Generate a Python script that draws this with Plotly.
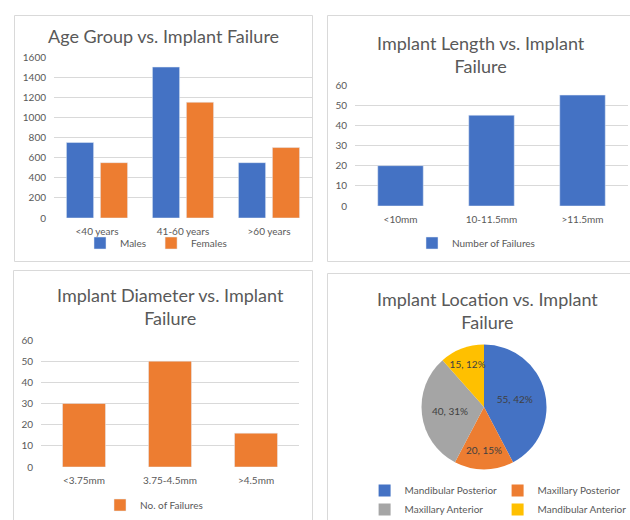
import plotly.graph_objects as go

# ── Data ─────────────────────────────────────────────────────────────────────
age_groups = ["<40 years", "41-60 years", ">60 years"]
age_males = [750, 1500, 550]
age_females = [550, 1150, 700]

length_groups = ["<10mm", "10-11.5mm", ">11.5mm"]
length_failures = [20, 45, 55]

diameter_groups = ["<3.75mm", "3.75-4.5mm", ">4.5mm"]
diameter_failures = [30, 50, 16]

location_labels = ["Mandibular Posterior", "Maxillary Posterior",
                   "Maxillary Anterior", "Mandibular Anterior"]
location_failures = [55, 20, 40, 15]

# ── Style ────────────────────────────────────────────────────────────────────
W, H = 630, 520
BLUE, ORANGE, GRAY, YELLOW = "#4472C4", "#ED7D31", "#A5A5A5", "#FFC000"
INK = "#595959"
GRID = "#D9D9D9"
FONT = "Lato"


def px_x(x):
    return x / W


def px_y(y):
    return 1 - y / H


fig = go.Figure()

# ── Age group (grouped bars) ─────────────────────────────────────────────────
fig.add_trace(go.Bar(x=age_groups, y=age_males, name="Males",
                     marker=dict(color=BLUE), xaxis="x", yaxis="y",
                     legend="legend"))
fig.add_trace(go.Bar(x=age_groups, y=age_females, name="Females",
                     marker=dict(color=ORANGE), xaxis="x", yaxis="y",
                     legend="legend"))

# ── Implant length ───────────────────────────────────────────────────────────
fig.add_trace(go.Bar(x=length_groups, y=length_failures,
                     name="Number of Failures", width=0.5,
                     marker=dict(color=BLUE), xaxis="x2", yaxis="y2",
                     legend="legend2"))

# ── Implant diameter ─────────────────────────────────────────────────────────
fig.add_trace(go.Bar(x=diameter_groups, y=diameter_failures,
                     name="No. of Failures", width=0.5,
                     marker=dict(color=ORANGE), xaxis="x3", yaxis="y3",
                     legend="legend3"))

# ── Implant location (pie) ───────────────────────────────────────────────────
cx, cy, r = 484, 407, 62.5
fig.add_trace(go.Pie(
    labels=location_labels, values=location_failures,
    sort=False, direction="clockwise", rotation=0,
    marker=dict(colors=[BLUE, ORANGE, GRAY, YELLOW],
                line=dict(width=0)),
    texttemplate="%{value}, %{percent:.0%}",
    textposition="inside", insidetextorientation="horizontal",
    textfont=dict(family=FONT, size=10, color="#404040"),
    hoverinfo="label+value+percent",
    domain=dict(x=[px_x(cx - r), px_x(cx + r)],
                y=[px_y(cy + r), px_y(cy - r)]),
    legend="legend4",
))


def bar_axes(xdom, ydom, yrange, dtick):
    xa = dict(domain=[px_x(xdom[0]), px_x(xdom[1])], range=[-0.5, 2.5],
              showgrid=False, zeroline=False, showline=False, ticks="",
              ticklabelstandoff=6,
              tickfont=dict(family=FONT, size=10, color=INK),
              fixedrange=True)
    ya = dict(domain=[px_y(ydom[1]), px_y(ydom[0])], range=yrange,
              dtick=dtick, showgrid=True, gridcolor=GRID, gridwidth=1,
              zeroline=False, showline=False, ticks="",
              ticklabelstandoff=7,
              tickfont=dict(family=FONT, size=10, color=INK),
              fixedrange=True)
    return xa, ya


xa1, ya1 = bar_axes((54, 312), (57, 218), [0, 1600], 200)
xa2, ya2 = bar_axes((355, 628), (85, 206), [0, 60], 10)
xa3, ya3 = bar_axes((41, 299), (340, 467), [0, 60], 10)
xa2["anchor"], ya2["anchor"] = "y2", "x2"
xa3["anchor"], ya3["anchor"] = "y3", "x3"


def legend_at(x, y, **kw):
    d = dict(orientation="h", x=px_x(x), y=px_y(y), xanchor="center",
             yanchor="middle", bgcolor="rgba(0,0,0,0)",
             font=dict(family=FONT, size=10, color=INK),
             itemwidth=30, tracegroupgap=0)
    d.update(kw)
    return d


# ── Panel frames and titles ──────────────────────────────────────────────────
frames = [(14.5, 15.5, 312.5, 261.5), (327.5, 15.5, 640, 261.5),
          (13.5, 270.5, 312.5, 530), (327.5, 273.5, 640, 530)]
shapes = [dict(type="rect", xref="paper", yref="paper",
               x0=px_x(a), x1=px_x(c), y0=px_y(d), y1=px_y(b),
               line=dict(color=GRID, width=1), fillcolor="rgba(0,0,0,0)",
               layer="below")
          for a, b, c, d in frames]

titles = [("Age Group vs. Implant Failure", 163, 36),
          ("Implant Length vs. Implant<br>Failure", 481, 55),
          ("Implant Diameter vs. Implant<br>Failure", 170, 306),
          ("Implant Location vs. Implant<br>Failure", 487, 310)]
annotations = [dict(text=t, x=px_x(x), y=px_y(y), xref="paper", yref="paper",
                    xanchor="center", yanchor="middle", showarrow=False,
                    font=dict(family=FONT, size=18, color=INK))
               for t, x, y in titles]

fig.update_layout(
    width=W, height=H,
    margin=dict(l=0, r=0, t=0, b=0, autoexpand=False),
    paper_bgcolor="white", plot_bgcolor="white",
    font=dict(family=FONT, size=10, color=INK),
    barmode="group", bargap=0.21, bargroupgap=0.2,
    uniformtext=dict(minsize=10, mode="show"),
    xaxis=xa1, yaxis=ya1,
    xaxis2=xa2, yaxis2=ya2,
    xaxis3=xa3, yaxis3=ya3,
    legend=legend_at(156, 243),
    legend2=legend_at(476, 243),
    legend3=legend_at(154, 505),
    # x just past 1 so the legend wraps at half the page width (2 columns)
    legend4=legend_at(630.6, 500, xanchor="right", entrywidth=88),
    shapes=shapes,
    annotations=annotations,
    showlegend=True,
)

fig.write_html("out.html", config={"displayModeBar": False},
               post_script="document.body.style.margin='0';"
                           "document.body.style.overflow='hidden';")
